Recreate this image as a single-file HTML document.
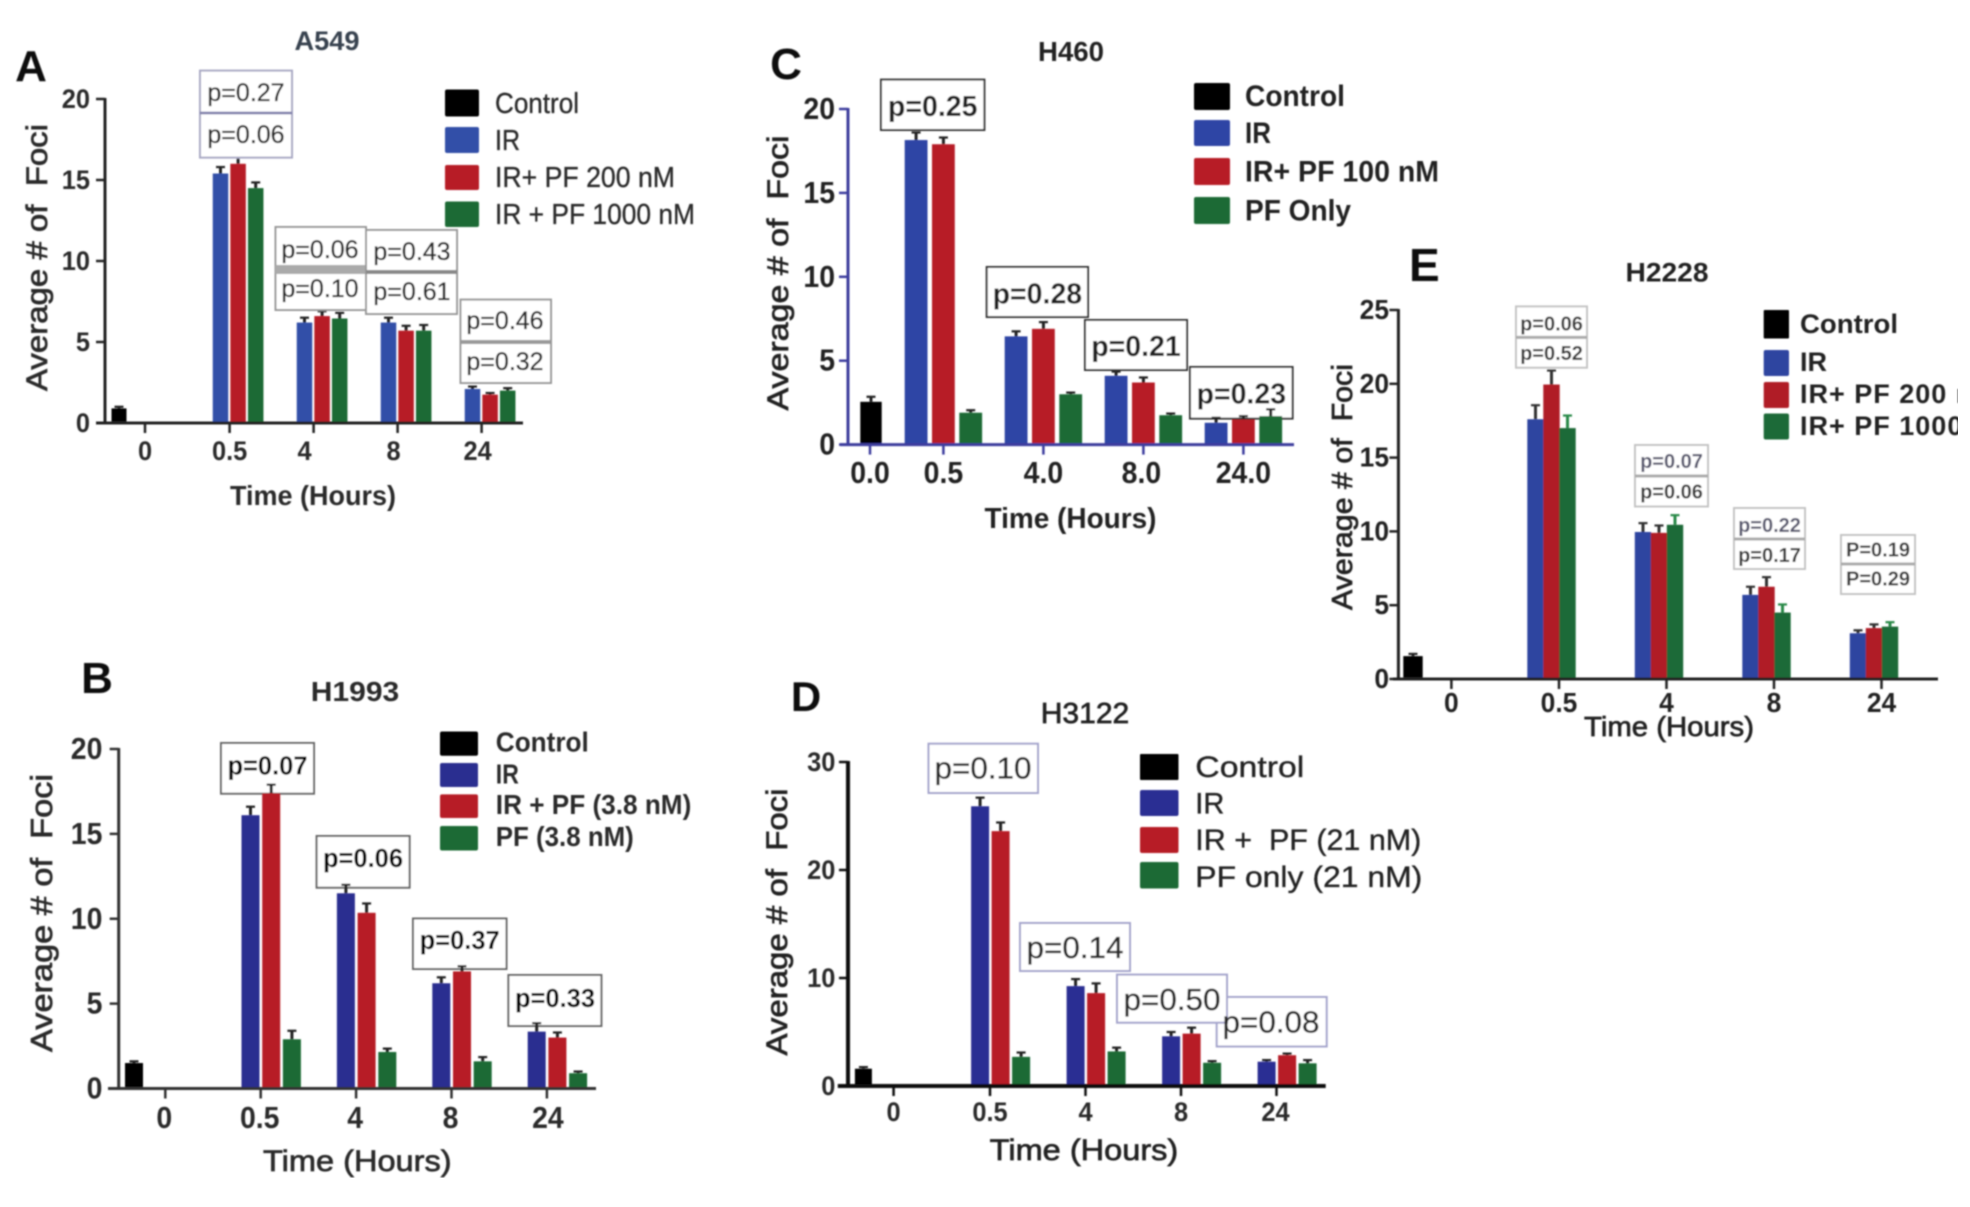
<!DOCTYPE html>
<html lang="en">
<head>
<meta charset="utf-8">
<title>Average number of foci over time in five cell lines</title>
<style>
html,body{margin:0;padding:0;background:#fff;}
svg{display:block;}
text{font-family:"Liberation Sans",sans-serif;white-space:pre;}
.b{font-weight:bold;}
.m{stroke-width:.7px;stroke:currentColor;}
.t{stroke-width:.35px;stroke:currentColor;}
</style>
</head>
<body>
<svg id="figure" xmlns="http://www.w3.org/2000/svg" width="1970" height="1207" viewBox="0 0 1970 1207">
<defs>
<filter id="soft" x="0" y="0" width="100%" height="100%"><feGaussianBlur stdDeviation="0.75"/></filter>
<clipPath id="edge"><rect x="0" y="0" width="1958" height="1207"/></clipPath>
</defs>
<rect width="1970" height="1207" fill="#fff"/>
<g filter="url(#soft)" clip-path="url(#edge)">

<!-- p-value boxes that sit behind the bars and error bars -->
<g class="b" font-size="25.5" text-anchor="middle" fill="#000">
<g><rect x="221" y="743" width="93" height="50.7" fill="#fff" stroke="#666" stroke-width="2"/><text x="267.5" y="774.5">p=0.07</text></g>
<g><rect x="316.6" y="836" width="93" height="51.7" fill="#fff" stroke="#666" stroke-width="2"/><text x="363" y="867">p=0.06</text></g>
<g><rect x="413" y="918.5" width="93.5" height="50.5" fill="#fff" stroke="#666" stroke-width="2"/><text x="459.7" y="949">p=0.37</text></g>
<g><rect x="508.4" y="975" width="93" height="51" fill="#fff" stroke="#666" stroke-width="2"/><text x="555" y="1007">p=0.33</text></g>
</g>
<g class="b" font-size="28.5" text-anchor="middle" fill="#222">
<rect x="1190" y="367" width="102.6" height="51.6" fill="#fff" stroke="#333" stroke-width="2"/><text x="1241.3" y="403.6">p=0.23</text>
</g>

<g id="marks"></g>

<!-- Panel A -->
<g fill="#2b2b2b" color="#2b2b2b">
<text x="31" y="81" font-size="44" class="b" text-anchor="middle" fill="#111">A</text>
<text x="327" y="50" font-size="27" class="b" text-anchor="middle" textLength="65" lengthAdjust="spacingAndGlyphs" fill="#39434f">A549</text>
<text transform="rotate(-90 47 257.5)" x="47" y="257.5" font-size="30" class="m" text-anchor="middle" textLength="267" lengthAdjust="spacingAndGlyphs">Average # of  Foci</text>
<text x="313" y="505" font-size="28" class="b" text-anchor="middle" textLength="166" lengthAdjust="spacingAndGlyphs">Time (Hours)</text>
<g>
<rect x="445" y="89.5" width="34" height="27" rx="2" fill="#000"/>
<rect x="445" y="127" width="34" height="26" rx="2" fill="#3350a8"/>
<rect x="445" y="165" width="34" height="25" rx="2" fill="#b71c25"/>
<rect x="445" y="201.5" width="34" height="25.5" rx="2" fill="#1a6a35"/>
<text x="495" y="113" font-size="29" class="t" textLength="84" lengthAdjust="spacingAndGlyphs">Control</text>
<text x="495" y="150" font-size="29" class="t" textLength="25" lengthAdjust="spacingAndGlyphs">IR</text>
<text x="495" y="187" font-size="29" class="t" textLength="180" lengthAdjust="spacingAndGlyphs">IR+ PF 200 nM</text>
<text x="495" y="224" font-size="29" class="t" textLength="200" lengthAdjust="spacingAndGlyphs">IR + PF 1000 nM</text>
</g>
<g font-size="25" text-anchor="middle">
<g>
<rect x="200" y="70.6" width="92" height="87" fill="#fff" stroke="#a9a9c4" stroke-width="2"/>
<line x1="200" x2="292" y1="113" y2="113" stroke="#7a7aa8" stroke-width="2.5"/>
<text class="t" x="246" y="101">p=0.27</text><text class="t" x="246" y="143">p=0.06</text>
</g>
<g>
<rect x="275.5" y="227" width="90.5" height="83" fill="#fff" stroke="#999" stroke-width="2"/>
<rect x="275.5" y="265" width="90.5" height="9" fill="#aaa"/>
<text class="t" x="320" y="258">p=0.06</text><text class="t" x="320" y="297">p=0.10</text>
</g>
<g>
<rect x="366" y="230" width="91" height="84" fill="#fff" stroke="#999" stroke-width="2"/>
<rect x="366" y="270" width="91" height="4" fill="#888"/>
<text class="t" x="412" y="260">p=0.43</text><text class="t" x="412" y="300">p=0.61</text>
</g>
<g>
<rect x="460.5" y="299.6" width="90.5" height="83.4" fill="#fff" stroke="#999" stroke-width="2"/>
<rect x="460.5" y="340" width="90.5" height="4" fill="#999"/>
<text class="t" x="505" y="329">p=0.46</text><text class="t" x="505" y="370">p=0.32</text>
</g>
</g>
</g>

<!-- Panel C -->
<g fill="#222" color="#222">
<text x="786" y="79" font-size="44" class="b" text-anchor="middle" fill="#111">C</text>
<text x="1071" y="61" font-size="28" class="b" text-anchor="middle" textLength="66" lengthAdjust="spacingAndGlyphs">H460</text>
<text transform="rotate(-90 788 273)" x="788" y="273" font-size="30" class="m" text-anchor="middle" textLength="275" lengthAdjust="spacingAndGlyphs">Average # of  Foci</text>
<text x="1070.5" y="528" font-size="29" class="b" text-anchor="middle" textLength="172" lengthAdjust="spacingAndGlyphs">Time (Hours)</text>
<g class="b" font-size="30">
<rect x="1194" y="83" width="36" height="27" rx="2" fill="#000"/>
<rect x="1194" y="120" width="36" height="26" rx="2" fill="#2f45a5"/>
<rect x="1194" y="158" width="36" height="27" rx="2" fill="#b71c25"/>
<rect x="1194" y="197" width="36" height="27" rx="2" fill="#1a6a35"/>
<text x="1245" y="106" textLength="100" lengthAdjust="spacingAndGlyphs">Control</text>
<text x="1245" y="143" textLength="26" lengthAdjust="spacingAndGlyphs">IR</text>
<text x="1245" y="181.5" textLength="194" lengthAdjust="spacingAndGlyphs">IR+ PF 100 nM</text>
<text x="1245" y="220.5" textLength="106" lengthAdjust="spacingAndGlyphs">PF Only</text>
</g>
<g class="b" font-size="28.5" text-anchor="middle">
<g><rect x="881" y="79.6" width="103.4" height="50.4" fill="#fff" stroke="#333" stroke-width="2"/><text x="932.7" y="116">p=0.25</text></g>
<g><rect x="986.7" y="267" width="101.3" height="50" fill="#fff" stroke="#333" stroke-width="2"/><text x="1037.4" y="303.6">p=0.28</text></g>
<g><rect x="1085" y="320" width="102" height="50" fill="#fff" stroke="#333" stroke-width="2"/><text x="1136" y="356">p=0.21</text></g>
</g>
</g>

<!-- Panel E -->
<g fill="#222" color="#222">
<text x="1409" y="281" font-size="46" class="b" fill="#111">E</text>
<text x="1667" y="281.6" font-size="27" class="b" text-anchor="middle" textLength="83" lengthAdjust="spacingAndGlyphs">H2228</text>
<text transform="rotate(-90 1352 487)" x="1352" y="487" font-size="29" class="m" text-anchor="middle" textLength="246" lengthAdjust="spacingAndGlyphs">Average # of  Foci</text>
<text x="1669" y="736" font-size="28" class="m" text-anchor="middle" textLength="170" lengthAdjust="spacingAndGlyphs">Time (Hours)</text>
<g class="b" font-size="27">
<rect x="1763.7" y="310" width="25.3" height="28.5" rx="1" fill="#000"/>
<rect x="1763.7" y="350" width="25.3" height="26" rx="2" fill="#2f45a0"/>
<rect x="1763.7" y="382" width="25.3" height="26" rx="2" fill="#b01c25"/>
<rect x="1763.7" y="413.5" width="25.3" height="26" rx="2" fill="#1f6a38"/>
<text x="1800" y="333" textLength="98" lengthAdjust="spacingAndGlyphs">Control</text>
<text x="1800" y="371" textLength="27" lengthAdjust="spacingAndGlyphs">IR</text>
<text x="1800" y="403" letter-spacing="1">IR+ PF 200 nM</text>
<text x="1800" y="435" letter-spacing="1">IR+ PF 1000 nM</text>
</g>
<g class="b" font-size="20" text-anchor="middle" fill="#3a3a3a">
<g><rect x="1516" y="306.4" width="71" height="61.3" fill="#fff" stroke="#c4c4c4" stroke-width="2"/><line x1="1516" x2="1587" y1="337.4" y2="337.4" stroke="#aaa" stroke-width="3"/><text x="1551.5" y="330.5">p=0.06</text><text x="1551.5" y="360">p=0.52</text></g>
<g><rect x="1635" y="445" width="73" height="61.5" fill="#fff" stroke="#c4c4c4" stroke-width="2"/><line x1="1635" x2="1708" y1="476" y2="476" stroke="#aaa" stroke-width="3"/><text x="1671.5" y="468" fill="#5a5a70">p=0.07</text><text x="1671.5" y="498.6">p=0.06</text></g>
<g><rect x="1734" y="508" width="71" height="61" fill="#fff" stroke="#c4c4c4" stroke-width="2"/><line x1="1734" x2="1805" y1="539" y2="539" stroke="#aaa" stroke-width="3"/><text x="1769.5" y="532" fill="#5a5a70">p=0.22</text><text x="1769.5" y="562">p=0.17</text></g>
<g><rect x="1841" y="535" width="74" height="59" fill="#fff" stroke="#c4c4c4" stroke-width="2"/><line x1="1841" x2="1915" y1="564" y2="564" stroke="#aaa" stroke-width="3"/><text x="1878" y="556.5">P=0.19</text><text x="1878" y="585.7">P=0.29</text></g>
</g>
</g>

<!-- Panel B -->
<g fill="#2b2b2b" color="#2b2b2b">
<text x="97" y="693" font-size="44" class="b" text-anchor="middle" fill="#111">B</text>
<text x="355" y="701" font-size="28" class="b" text-anchor="middle" textLength="88.5" lengthAdjust="spacingAndGlyphs">H1993</text>
<text transform="rotate(-90 52 913)" x="52" y="913" font-size="31" class="m" text-anchor="middle" textLength="278" lengthAdjust="spacingAndGlyphs">Average # of  Foci</text>
<text x="357.3" y="1171" font-size="30" class="m" text-anchor="middle" textLength="188.6" lengthAdjust="spacingAndGlyphs">Time (Hours)</text>
<g class="b" font-size="28">
<rect x="440" y="731.5" width="38" height="24.2" rx="2" fill="#000"/>
<rect x="440" y="763" width="38" height="24" rx="2" fill="#2a2e90"/>
<rect x="440" y="794.4" width="38" height="23.6" rx="2" fill="#b71c25"/>
<rect x="440" y="826" width="38" height="24.5" rx="2" fill="#1a6a35"/>
<text x="495.8" y="751.5" textLength="93" lengthAdjust="spacingAndGlyphs">Control</text>
<text x="495.8" y="783.5" textLength="23" lengthAdjust="spacingAndGlyphs">IR</text>
<text x="495.8" y="814" textLength="195.5" lengthAdjust="spacingAndGlyphs">IR + PF (3.8 nM)</text>
<text x="495.8" y="846" textLength="138" lengthAdjust="spacingAndGlyphs">PF (3.8 nM)</text>
</g>
</g>

<!-- Panel D -->
<g fill="#222" color="#222">
<text x="806" y="711" font-size="42" class="b" text-anchor="middle" fill="#111">D</text>
<text x="1085" y="723" font-size="29" class="m" text-anchor="middle" textLength="88.5" lengthAdjust="spacingAndGlyphs">H3122</text>
<text transform="rotate(-90 787 922)" x="787" y="922" font-size="30" class="m" text-anchor="middle" textLength="267" lengthAdjust="spacingAndGlyphs">Average # of  Foci</text>
<text x="1084" y="1160" font-size="30" class="m" text-anchor="middle" textLength="188.6" lengthAdjust="spacingAndGlyphs">Time (Hours)</text>
<g font-size="30">
<rect x="1140" y="754" width="38.5" height="26" rx="1" fill="#000"/>
<rect x="1140" y="790" width="38.5" height="26" rx="2" fill="#2c2e93"/>
<rect x="1140" y="827" width="38.5" height="26" rx="2" fill="#b71c25"/>
<rect x="1140" y="862" width="38.5" height="26.5" rx="2" fill="#1a6a35"/>
<text x="1195.3" y="777" class="t" textLength="109" lengthAdjust="spacingAndGlyphs">Control</text>
<text x="1195.3" y="813.5" class="t" textLength="29" lengthAdjust="spacingAndGlyphs">IR</text>
<text x="1195.3" y="850" class="t" textLength="226" lengthAdjust="spacingAndGlyphs">IR +  PF (21 nM)</text>
<text x="1195.3" y="887" class="t" textLength="227" lengthAdjust="spacingAndGlyphs">PF only (21 nM)</text>
</g>
<g font-size="31" text-anchor="middle" fill="#2b2b2b">
<rect x="928.5" y="743.7" width="109.5" height="49.3" fill="#fff" stroke="#a4a4cc" stroke-width="2"/>
<rect x="1020" y="923" width="110" height="48" fill="#fff" stroke="#a4a4cc" stroke-width="2"/>
<rect x="1216.7" y="997" width="110" height="49.5" fill="#fff" stroke="#a4a4cc" stroke-width="2"/>
<rect x="1117" y="974.6" width="110" height="48.1" fill="#fff" stroke="#a4a4cc" stroke-width="2"/>
<text x="983" y="778.6" class="t" textLength="97" lengthAdjust="spacingAndGlyphs">p=0.10</text>
<text x="1075" y="958" class="t" textLength="97" lengthAdjust="spacingAndGlyphs">p=0.14</text>
<text x="1172" y="1010" class="t" textLength="97" lengthAdjust="spacingAndGlyphs">p=0.50</text>
<text x="1271" y="1032.5" class="t" textLength="97" lengthAdjust="spacingAndGlyphs">p=0.08</text>
</g>
</g>
</g>
</svg>

<script>
/* ---- categories and tick labels ---- */
const timeLabels = ['0', '0.5', '4', '8', '24'];
const timeLabelsDecimal = ['0.0', '0.5', '4.0', '8.0', '24.0'];
const yTicks20 = [0, 5, 10, 15, 20];
const yTicks25 = [0, 5, 10, 15, 20, 25];
const yTicks30 = [0, 10, 20, 30];

/* ---- A549 ---- */
const a549Control = [0.9];
const a549ControlErr = [0.1];
const a549IR = [15.4, 6.2, 6.2, 2.1];
const a549IRErr = [0.4, 0.3, 0.3, 0.15];
const a549PF200 = [16.0, 6.6, 5.7, 1.75];
const a549PF200Err = [0.4, 0.3, 0.3, 0.1];
const a549PF1000 = [14.5, 6.45, 5.7, 2.0];
const a549PF1000Err = [0.35, 0.35, 0.35, 0.15];

/* ---- H460 ---- */
const h460Control = [2.55];
const h460ControlErr = [0.3];
const h460IR = [18.15, 6.45, 4.1, 1.3];
const h460IRErr = [0.45, 0.3, 0.25, 0.3];
const h460PF100 = [17.9, 6.9, 3.7, 1.5];
const h460PF100Err = [0.4, 0.4, 0.3, 0.2];
const h460PFOnly = [1.9, 3.0, 1.75, 1.7];
const h460PFOnlyErr = [0.15, 0.1, 0.1, 0.4];

/* ---- H2228 ---- */
const h2228Control = [1.55];
const h2228ControlErr = [0.15];
const h2228IR = [17.6, 9.96, 5.7, 3.1];
const h2228IRErr = [0.95, 0.6, 0.55, 0.2];
const h2228PF200 = [19.95, 9.9, 6.25, 3.45];
const h2228PF200Err = [0.95, 0.5, 0.65, 0.25];
const h2228PF1000 = [17.0, 10.45, 4.5, 3.55];
const h2228PF1000Err = [0.85, 0.65, 0.55, 0.3];

/* ---- H1993 ---- */
const h1993Control = [1.5];
const h1993ControlErr = [0.1];
const h1993IR = [16.1, 11.5, 6.2, 3.35];
const h1993IRErr = [0.5, 0.5, 0.35, 0.5];
const h1993PF = [17.4, 10.35, 6.9, 3.0];
const h1993PFErr = [0.5, 0.55, 0.3, 0.3];
const h1993PFOnly = [2.9, 2.15, 1.6, 0.9];
const h1993PFOnlyErr = [0.5, 0.2, 0.25, 0.1];

/* ---- H3122 ---- */
const h3122Control = [1.6];
const h3122ControlErr = [0.15];
const h3122IR = [25.9, 9.25, 4.6, 2.25];
const h3122IRErr = [0.8, 0.65, 0.4, 0.15];
const h3122PF = [23.6, 8.6, 4.85, 2.85];
const h3122PFErr = [0.8, 0.9, 0.55, 0.15];
const h3122PFOnly = [2.7, 3.2, 2.15, 2.1];
const h3122PFOnlyErr = [0.4, 0.35, 0.15, 0.3];

const SVG_NS = 'http://www.w3.org/2000/svg';
const marksRoot = document.getElementById('marks');

function shape(parent, tag, attrs, name) {
  const el = document.createElementNS(SVG_NS, tag);
  for (const k in attrs) el.setAttribute(k, attrs[k]);
  
  
  parent.appendChild(el);
  return el;
}

function drawPanel(p) {
  const g = shape(marksRoot, 'g', {}, p.name + '-plot');
  const yScale = v => p.y0 - (v / p.yMax) * (p.y0 - p.yTop);
  const tickX = i => i === 0 ? p.tick0 : p.tick1 + (i - 1) * p.dx;
  const groupX = i => p.tick1 + p.groupOffset + i * p.dx;
  const fontSize = p.tickSize * 1.08;

  /* control bar */
  p.control.forEach((v, i) => {
    drawBar(g, p.controlX, v, p.controlErr[i], p.controlW, '#000', p.errColors[0], yScale, p.name + '-bar-control');
  });

  /* grouped bars */
  p.series.forEach((values, s) => {
    values.forEach((v, i) => {
      const cx = groupX(i) + (s - 1) * p.step;
      drawBar(g, cx, v, p.errors[s][i], p.barW, p.colors[s], p.errColors[s + 1], yScale, p.name + '-bar-' + p.seriesKeys[s] + '-' + p.labels[i + 1]);
    });
  });

  /* axes */
  shape(g, 'line', {x1: p.axisX, x2: p.axisX, y1: p.yTop - 1, y2: p.y0, stroke: p.axisColor, 'stroke-width': p.axisW}, p.name + '-y-axis');
  shape(g, 'line', {x1: p.xStart, x2: p.xEnd, y1: p.y0, y2: p.y0, stroke: p.axisColor, 'stroke-width': p.axisW}, p.name + '-x-axis');

  p.yTicks.forEach(t => {
    const y = yScale(t);
    shape(g, 'line', {x1: p.axisX - 9, x2: p.axisX, y1: y, y2: y, stroke: p.axisColor, 'stroke-width': 2.5}, p.name + '-y-tick');
    const lab = shape(g, 'text', {transform: 'translate(' + p.yLabelX + ' ' + (y + p.yLabelDy) + ') scale(0.94 1)', 'font-size': fontSize, 'font-weight': 'bold', 'text-anchor': 'end', fill: p.labelColor}, p.name + '-y-tick-label');
    lab.textContent = t;
  });

  p.labels.forEach((label, i) => {
    const x = tickX(i);
    shape(g, 'line', {x1: x, x2: x, y1: p.y0, y2: p.y0 + 10, stroke: p.axisColor, 'stroke-width': 2.5}, p.name + '-x-tick');
    const lab = shape(g, 'text', {transform: 'translate(' + (x + p.labelNudge[i]) + ' ' + p.xLabelY + ') scale(0.94 1)', 'font-size': fontSize, 'font-weight': 'bold', 'text-anchor': 'middle', fill: p.labelColor}, p.name + '-x-tick-label');
    lab.textContent = label;
  });
}

function drawBar(g, cx, value, err, w, color, errColor, yScale, name) {
  const top = yScale(value);
  const errTop = yScale(value + err);
  shape(g, 'line', {x1: cx, x2: cx, y1: top, y2: errTop, stroke: errColor, 'stroke-width': 3}, name + '-error');
  shape(g, 'line', {x1: cx - 4.5, x2: cx + 4.5, y1: errTop, y2: errTop, stroke: errColor, 'stroke-width': 2.2}, name + '-error-cap');
  shape(g, 'rect', {x: cx - w / 2, y: top, width: w, height: yScale(0) - top, fill: color}, name);
}

const RED = '#b71c25';
const GREEN = '#1a6a35';
const DARK = '#222';

drawPanel({
  name: 'panel-a', labels: timeLabels, yTicks: yTicks20, yMax: 20,
  control: a549Control, controlErr: a549ControlErr,
  series: [a549IR, a549PF200, a549PF1000], errors: [a549IRErr, a549PF200Err, a549PF1000Err],
  seriesKeys: ['ir', 'ir-pf-200', 'ir-pf-1000'],
  colors: ['#3350a8', RED, GREEN], errColors: [DARK, DARK, DARK, DARK],
  axisX: 105, y0: 423, yTop: 99, xStart: 96, xEnd: 523, axisColor: '#222', axisW: 3,
  tick0: 145, tick1: 229.6, dx: 84, groupOffset: 8.5, step: 17.6, barW: 15.5, controlX: 119, controlW: 15,
  labelNudge: [0, 0, -9, -4, -4],
  yLabelX: 90, yLabelDy: 9, xLabelY: 460, tickSize: 25, labelColor: '#2b2b2b'
});

drawPanel({
  name: 'panel-c', labels: timeLabelsDecimal, yTicks: yTicks20, yMax: 20,
  control: h460Control, controlErr: h460ControlErr,
  series: [h460IR, h460PF100, h460PFOnly], errors: [h460IRErr, h460PF100Err, h460PFOnlyErr],
  seriesKeys: ['ir', 'ir-pf-100', 'pf-only'],
  colors: ['#2f45a5', RED, GREEN], errColors: [DARK, DARK, DARK, DARK],
  axisX: 848, y0: 444.6, yTop: 109, xStart: 840, xEnd: 1294, axisColor: '#3d3d9e', axisW: 3,
  tick0: 870, tick1: 943.4, dx: 100, groupOffset: 0, step: 27.3, barW: 22.8, controlX: 871, controlW: 21.4,
  labelNudge: [0, 0, 0, -2, 0],
  yLabelX: 835, yLabelDy: 10, xLabelY: 483, tickSize: 28, labelColor: '#222'
});

drawPanel({
  name: 'panel-e', labels: timeLabels, yTicks: yTicks25, yMax: 25,
  control: h2228Control, controlErr: h2228ControlErr,
  series: [h2228IR, h2228PF200, h2228PF1000], errors: [h2228IRErr, h2228PF200Err, h2228PF1000Err],
  seriesKeys: ['ir', 'ir-pf-200', 'ir-pf-1000'],
  colors: ['#2f45a0', '#b01c25', '#1f6a38'], errColors: [DARK, '#333', '#333', '#2c8a48'],
  axisX: 1398.4, y0: 679, yTop: 310, xStart: 1393, xEnd: 1938, axisColor: '#222', axisW: 3,
  tick0: 1451.4, tick1: 1559, dx: 107.5, groupOffset: -7.5, step: 16, barW: 16.4, controlX: 1413, controlW: 19.4,
  labelNudge: [0, 0, 0, 0, 0],
  yLabelX: 1389, yLabelDy: 9, xLabelY: 712, tickSize: 26, labelColor: '#222'
});

drawPanel({
  name: 'panel-b', labels: timeLabels, yTicks: yTicks20, yMax: 20,
  control: h1993Control, controlErr: h1993ControlErr,
  series: [h1993IR, h1993PF, h1993PFOnly], errors: [h1993IRErr, h1993PFErr, h1993PFOnlyErr],
  seriesKeys: ['ir', 'ir-pf', 'pf'],
  colors: ['#2a2e90', RED, GREEN], errColors: [DARK, DARK, DARK, DARK],
  axisX: 118.7, y0: 1088.5, yTop: 749, xStart: 108, xEnd: 596, axisColor: '#333', axisW: 3,
  tick0: 165.3, tick1: 260.7, dx: 95.4, groupOffset: 10.5, step: 20.7, barW: 18, controlX: 134, controlW: 18,
  labelNudge: [-1, -1, -1, -1, 1],
  yLabelX: 102.4, yLabelDy: 10, xLabelY: 1128, tickSize: 28, labelColor: '#2b2b2b'
});

drawPanel({
  name: 'panel-d', labels: timeLabels, yTicks: yTicks30, yMax: 30,
  control: h3122Control, controlErr: h3122ControlErr,
  series: [h3122IR, h3122PF, h3122PFOnly], errors: [h3122IRErr, h3122PFErr, h3122PFOnlyErr],
  seriesKeys: ['ir', 'ir-pf', 'pf-only'],
  colors: ['#2c2e93', RED, GREEN], errColors: [DARK, DARK, DARK, DARK],
  axisX: 848, y0: 1086, yTop: 762, xStart: 837.8, xEnd: 1325.7, axisColor: '#111', axisW: 4,
  tick0: 893.6, tick1: 990, dx: 95.5, groupOffset: 10.6, step: 20.5, barW: 18, controlX: 863.4, controlW: 17,
  labelNudge: [0, 0, 0, 0, -1],
  yLabelX: 835.4, yLabelDy: 9, xLabelY: 1121, tickSize: 25, labelColor: '#2b2b2b'
});
</script>
</body>
</html>
